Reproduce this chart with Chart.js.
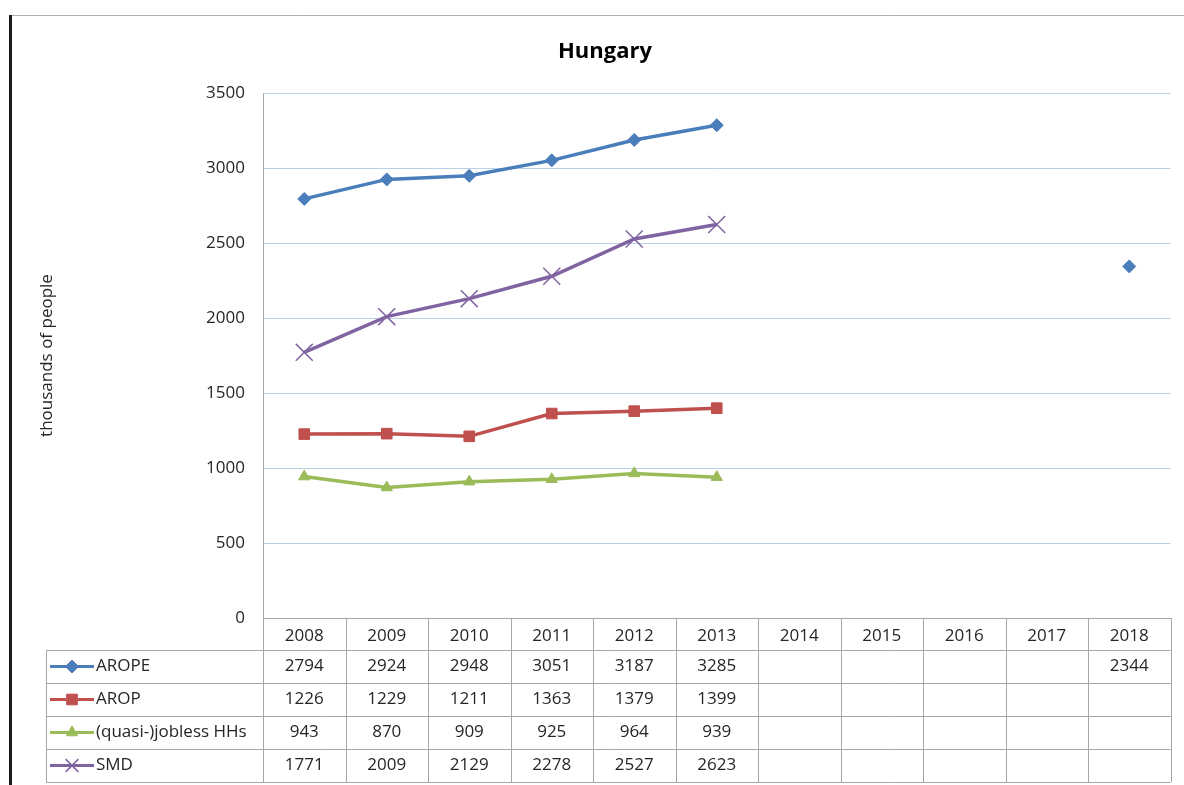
<!DOCTYPE html>
<html>
<head>
<meta charset="utf-8">
<script src="https://cdn.jsdelivr.net/npm/chart.js@4.4.1/dist/chart.umd.min.js"></script>
<style>
  html, body { margin: 0; padding: 0; background: #fff; }
  #wrap { position: relative; width: 1184px; height: 785px; }
</style>
</head>
<body>
<div id="wrap"><canvas id="grafica"></canvas></div>
<script>
const years = ['2008', '2009', '2010', '2011', '2012', '2013', '2014', '2015', '2016', '2017', '2018'];
const arope = [2794, 2924, 2948, 3051, 3187, 3285, null, null, null, null, 2344];
const arop = [1226, 1229, 1211, 1363, 1379, 1399, null, null, null, null, null];
const jobless = [943, 870, 909, 925, 964, 939, null, null, null, null, null];
const smd = [1771, 2009, 2129, 2278, 2527, 2623, null, null, null, null, null];
const yTicks = [0, 500, 1000, 1500, 2000, 2500, 3000, 3500];

const FONT = "'Open Sans', 'Noto Sans', sans-serif";
const TEXT = '#262626';
const LINE_GRAY = '#a6a6a6';

function serie(label, data, color, style, radius) {
  return {
    label: label,
    data: data,
    borderColor: color,
    backgroundColor: color,
    borderWidth: 3.5,
    pointStyle: style,
    pointRadius: radius,
    pointHoverRadius: radius,
    pointBorderWidth: style === 'crossRot' ? 1.5 : 1,
    pointBackgroundColor: color,
    pointBorderColor: color,
    spanGaps: false,
    tension: 0
  };
}

// marco tipo Excel y tabla de datos debajo del grafico
const tablaDatos = {
  id: 'tablaDatos',
  beforeDraw(chart) {
    const c = chart.ctx;
    c.save();
    c.fillStyle = '#fff';
    c.fillRect(0, 0, chart.width, chart.height);
    c.strokeStyle = '#b0b0b0';
    c.lineWidth = 1;
    c.beginPath();
    c.moveTo(10, 15.5);
    c.lineTo(chart.width, 15.5);
    c.stroke();
    c.fillStyle = '#1a1a1a';
    c.fillRect(9, 15, 3, chart.height - 15);
    c.restore();
  },
  afterDraw(chart) {
    const c = chart.ctx;
    const area = chart.chartArea;
    const xs = chart.scales.x;
    const n = years.length;
    const colW = (area.right - area.left) / n;
    const headBottom = area.bottom + 32;
    const rowH = 33;
    const legLeft = 46;
    const sets = chart.data.datasets;
    const bottom = headBottom + rowH * sets.length;

    c.save();
    c.strokeStyle = LINE_GRAY;
    c.lineWidth = 1;
    c.beginPath();
    for (let k = 0; k <= sets.length; k++) {
      const y = Math.round(headBottom + k * rowH) + 0.5;
      c.moveTo(legLeft, y);
      c.lineTo(area.right, y);
    }
    for (let i = 0; i <= n; i++) {
      const x = Math.round(area.left + i * colW) + 0.5;
      c.moveTo(x, area.bottom);
      c.lineTo(x, bottom);
    }
    c.moveTo(legLeft + 0.5, headBottom);
    c.lineTo(legLeft + 0.5, bottom);
    c.stroke();

    c.font = '17px ' + FONT;
    c.fillStyle = TEXT;
    c.textBaseline = 'middle';
    sets.forEach((ds, k) => {
      const yc = headBottom + k * rowH + rowH / 2;
      // clave de leyenda
      c.strokeStyle = ds.borderColor;
      c.lineWidth = 3;
      c.beginPath();
      c.moveTo(50, yc);
      c.lineTo(94, yc);
      c.stroke();
      c.fillStyle = ds.borderColor;
      c.lineWidth = ds.pointBorderWidth;
      Chart.helpers.drawPoint(c, {
        pointStyle: ds.pointStyle,
        radius: ds.pointStyle === 'crossRot' ? 9 : ds.pointRadius,
        rotation: 0,
        borderWidth: ds.pointBorderWidth
      }, 72, yc);
      c.fillStyle = TEXT;
      c.textAlign = 'left';
      c.fillText(ds.label, 96, yc);
      c.textAlign = 'center';
      ds.data.forEach((v, i) => {
        if (v === null) return;
        c.fillText(String(v), xs.getPixelForValue(i), yc);
      });
    });
    c.restore();
  }
};

const ctx = document.getElementById('grafica');
new Chart(ctx, {
  type: 'line',
  data: {
    labels: years,
    datasets: [
      serie('AROPE', arope, '#4a7ebb', 'rectRot', 6.5),
      serie('AROP', arop, '#c0504d', 'rect', 7.5),
      serie('(quasi-)jobless HHs', jobless, '#9bbb59', 'triangle', 6.5),
      serie('SMD', smd, '#8064a2', 'crossRot', 12)
    ]
  },
  options: {
    responsive: true,
    maintainAspectRatio: false,
    animation: false,
    layout: {
      padding: { left: 34, right: 8, top: 0, bottom: 135 }
    },
    plugins: {
      legend: { display: false },
      tooltip: { enabled: false },
      title: {
        display: true,
        text: 'Hungary',
        color: '#000',
        font: { family: FONT, size: 22, weight: 'bold' },
        padding: { top: 39, bottom: 27.6 }
      }
    },
    scales: {
      x: {
        offset: true,
        grid: { display: false },
        border: { display: true, color: LINE_GRAY, width: 1 },
        ticks: {
          color: TEXT,
          font: { family: FONT, size: 17 },
          padding: 0,
          maxRotation: 0,
          autoSkip: false
        },
        afterFit: s => { s.height = 32; }
      },
      y: {
        min: 0,
        max: 3500,
        afterBuildTicks: s => { s.ticks = yTicks.map(v => ({ value: v })); },
        grid: { color: '#bcd0e8', lineWidth: 1, drawTicks: false },
        border: { display: true, color: LINE_GRAY, width: 1 },
        ticks: {
          color: TEXT,
          font: { family: FONT, size: 17 },
          padding: 18,
          callback: v => String(v)
        },
        title: {
          display: true,
          text: 'thousands of people',
          color: TEXT,
          font: { family: FONT, size: 17 },
          padding: { top: 3, bottom: 0 }
        },
        afterFit: s => { s.width = 229; }
      }
    }
  },
  plugins: [tablaDatos]
});
</script>
</body>
</html>
